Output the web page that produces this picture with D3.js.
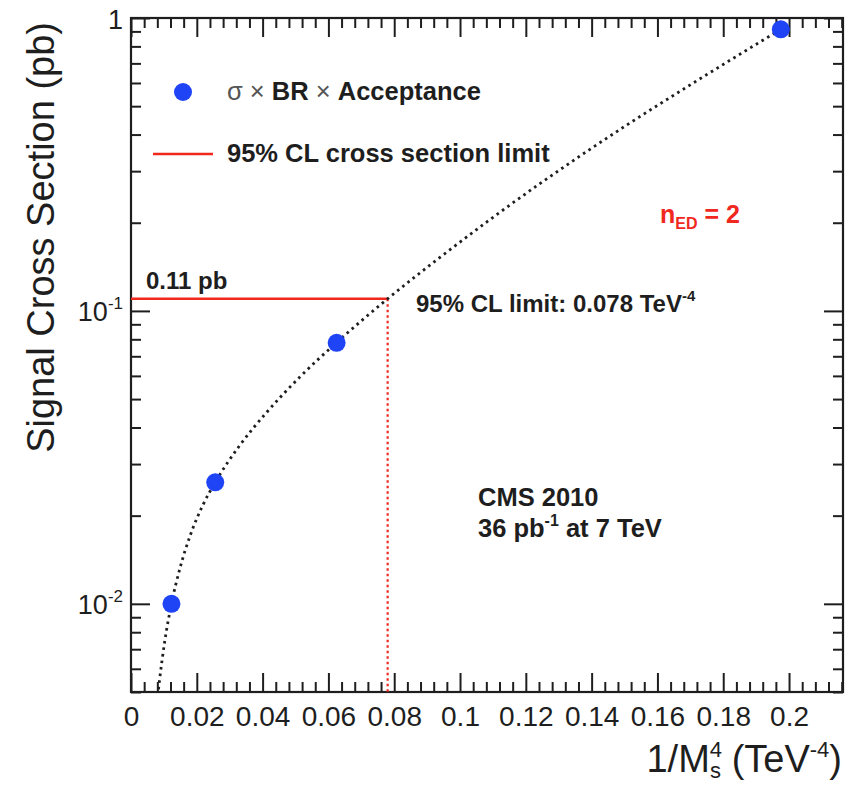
<!DOCTYPE html>
<meta charset="utf-8">
<script src="https://d3js.org/d3.v7.min.js"></script>
<style>
  body { margin: 0; background: #fff; }
  text { font-family: "Liberation Sans", Arial, sans-serif; }
</style>
<div id="chart"></div>
<script>

// signal points: 1/Ms^4 (TeV^-4) and sigma x BR x acceptance (pb)
var invMs4 = [0.0123, 0.0256, 0.0625, 0.1975];
var sigmaPb = [0.0100, 0.0260, 0.0778, 0.915];

// fitted curve
var fitX = [0.0079, 0.0086, 0.0103, 0.0123, 0.0149, 0.0179, 0.0219, 0.0256, 0.0331, 0.0412,
            0.0514, 0.0625, 0.078, 0.094, 0.109, 0.124, 0.1395, 0.1507, 0.1709, 0.1975];
var fitY = [0.0046, 0.0054, 0.0075, 0.0100, 0.01325, 0.0170, 0.0218, 0.0260, 0.0348, 0.0450,
            0.0596, 0.0780, 0.110, 0.1526, 0.2046, 0.2706, 0.3562, 0.4312, 0.600, 0.915];

// limit
var limitX = 0.078;
var limitY = 0.11;

// ticks
var xMajor = [0, 0.02, 0.04, 0.06, 0.08, 0.1, 0.12, 0.14, 0.16, 0.18, 0.2];
var xLabels = ["0", "0.02", "0.04", "0.06", "0.08", "0.1", "0.12", "0.14", "0.16", "0.18", "0.2"];
var yMajor = [0.01, 0.1, 1];
var yExp = ["-2", "-1", ""];

var W = 848, H = 789;
var margin = {top: 18, right: 5, bottom: 97, left: 131};
var xMax = 0.2164;

var svg = d3.select("#chart").append("svg")
    .attr("width", W).attr("height", H);

var x = d3.scaleLinear().domain([0, xMax]).range([margin.left, W - margin.right]);
var y = d3.scaleLog().domain([0.005, 1]).range([H - margin.bottom, margin.top]);

var x0 = x.range()[0], x1 = x.range()[1];
var yb = y.range()[0], yt = y.range()[1];

var red = "#f0281e", blue = "#1f44f6", ink = "#1e1e1e";

// minor ticks
var xMinor = d3.range(0, 60).map(function(i) { return i * 0.004; })
    .filter(function(v) { return v <= xMax && Math.abs(v / 0.02 - Math.round(v / 0.02)) > 1e-6; });
var yMinor = [];
[0.001, 0.01, 0.1].forEach(function(d) {
  for (var k = 2; k <= 9; k++) {
    var v = d * k;
    if (v >= 0.005 && v <= 1) yMinor.push(v);
  }
});

function styleAxis(g) {
  g.select(".domain").remove();
  g.selectAll(".tick line").attr("stroke", ink).attr("stroke-width", 2);
}

// bottom
svg.append("g").attr("transform", "translate(0," + yb + ")")
  .call(d3.axisBottom(x).tickValues(xMajor).tickSize(-19).tickPadding(14)
        .tickFormat(function(d, i) { return xLabels[i]; }))
  .call(styleAxis)
  .selectAll("text").attr("font-size", 28).attr("fill", ink)
  .attr("font-family", "Liberation Sans, Arial, sans-serif");
svg.append("g").attr("transform", "translate(0," + yb + ")")
  .call(d3.axisBottom(x).tickValues(xMinor).tickSize(-10).tickFormat(""))
  .call(styleAxis);
// top
svg.append("g").attr("transform", "translate(0," + yt + ")")
  .call(d3.axisTop(x).tickValues(xMajor).tickSize(-19).tickFormat(""))
  .call(styleAxis);
svg.append("g").attr("transform", "translate(0," + yt + ")")
  .call(d3.axisTop(x).tickValues(xMinor).tickSize(-10).tickFormat(""))
  .call(styleAxis);
// left
var gl = svg.append("g").attr("transform", "translate(" + x0 + ",0)")
  .call(d3.axisLeft(y).tickValues(yMajor).tickSize(-19).tickFormat(""))
  .call(styleAxis);
svg.append("g").attr("transform", "translate(" + x0 + ",0)")
  .call(d3.axisLeft(y).tickValues(yMinor).tickSize(-10).tickFormat(""))
  .call(styleAxis);
// right
svg.append("g").attr("transform", "translate(" + x1 + ",0)")
  .call(d3.axisRight(y).tickValues(yMajor).tickSize(-19).tickFormat(""))
  .call(styleAxis);
svg.append("g").attr("transform", "translate(" + x1 + ",0)")
  .call(d3.axisRight(y).tickValues(yMinor).tickSize(-10).tickFormat(""))
  .call(styleAxis);

// y tick labels with exponents
gl.selectAll(".tick").each(function(d, i) {
  var t = d3.select(this).append("text")
      .attr("x", -8).attr("y", 10)
      .attr("text-anchor", "end")
      .attr("font-size", 27).attr("fill", ink);
  if (yExp[i] === "") {
    t.text("1");
  } else {
    t.append("tspan").text("10");
    t.append("tspan").attr("font-size", 17).attr("dy", -12).text(yExp[i]);
  }
});

// frame
svg.append("rect")
  .attr("x", x0).attr("y", yt).attr("width", x1 - x0).attr("height", yb - yt)
  .attr("fill", "none").attr("stroke", ink).attr("stroke-width", 2.2);

var plot = svg.append("g");
svg.append("clipPath").attr("id", "clip").append("rect")
  .attr("x", x0).attr("y", yt).attr("width", x1 - x0).attr("height", yb - yt);
plot.attr("clip-path", "url(#clip)");

// limit lines
plot.append("line")
  .attr("x1", x(0)).attr("x2", x(limitX))
  .attr("y1", y(limitY)).attr("y2", y(limitY))
  .attr("stroke", red).attr("stroke-width", 2.5);
plot.append("line")
  .attr("x1", x(limitX)).attr("x2", x(limitX))
  .attr("y1", y(limitY)).attr("y2", yb)
  .attr("stroke", red).attr("stroke-width", 2.2).attr("stroke-dasharray", "2.5,3");

// fitted curve (dotted)
var fitData = fitX.map(function(v, i) { return [v, fitY[i]]; });
plot.append("path")
  .datum(fitData)
  .attr("d", d3.line()
      .x(function(d) { return x(d[0]); })
      .y(function(d) { return y(d[1]); })
      .curve(d3.curveMonotoneX))
  .attr("fill", "none").attr("stroke", ink)
  .attr("stroke-width", 2.8).attr("stroke-dasharray", "2.6,4");

// points
var pts = invMs4.map(function(v, i) { return [v, sigmaPb[i]]; });
plot.selectAll("circle.pt").data(pts).enter().append("circle")
  .attr("class", "pt")
  .attr("cx", function(d) { return x(d[0]); })
  .attr("cy", function(d) { return y(d[1]); })
  .attr("r", 9).attr("fill", blue);

// legend
svg.append("circle").attr("cx", 183).attr("cy", 92).attr("r", 9).attr("fill", blue);
var lt = svg.append("text").attr("x", 227).attr("y", 100)
  .attr("font-size", 25.5).attr("fill", ink);
lt.append("tspan").attr("fill", "#555").text("\u03c3 \u00d7 ");
lt.append("tspan").attr("font-weight", "bold").text("BR");
lt.append("tspan").attr("fill", "#555").text(" \u00d7 ");
lt.append("tspan").attr("font-weight", "bold").text("Acceptance");

svg.append("line").attr("x1", 153).attr("x2", 213).attr("y1", 154).attr("y2", 154)
  .attr("stroke", red).attr("stroke-width", 2.5);
svg.append("text").attr("x", 227).attr("y", 162)
  .attr("font-size", 25.5).attr("font-weight", "bold").attr("fill", ink)
  .text("95% CL cross section limit");

// annotations
svg.append("text").attr("x", 146).attr("y", 289)
  .attr("font-size", 24).attr("font-weight", "bold").attr("fill", ink)
  .text("0.11 pb");

var al = svg.append("text").attr("x", 416).attr("y", 312)
  .attr("font-size", 24).attr("font-weight", "bold").attr("fill", ink);
al.append("tspan").text("95% CL limit: 0.078 TeV");
al.append("tspan").attr("font-size", 15).attr("dy", -11).text("-4");

var ne = svg.append("text").attr("x", 660).attr("y", 223)
  .attr("font-size", 25).attr("font-weight", "bold").attr("fill", red);
ne.append("tspan").text("n");
ne.append("tspan").attr("font-size", 16).attr("dy", 6).text("ED");
ne.append("tspan").attr("dy", -6).text(" = 2");

svg.append("text").attr("x", 478).attr("y", 506)
  .attr("font-size", 25.5).attr("font-weight", "bold").attr("fill", ink)
  .text("CMS 2010");
var lum = svg.append("text").attr("x", 478).attr("y", 537)
  .attr("font-size", 25.5).attr("font-weight", "bold").attr("fill", ink);
lum.append("tspan").text("36 pb");
lum.append("tspan").attr("font-size", 16).attr("dy", -11).text("-1");
lum.append("tspan").attr("dy", 11).text(" at 7 TeV");

// axis titles
svg.append("text")
  .attr("transform", "translate(54,22) rotate(-90)")
  .attr("text-anchor", "end")
  .attr("font-size", 38).attr("fill", ink)
  .text("Signal Cross Section (pb)");

var xt = svg.append("text").attr("x", 842).attr("y", 772)
  .attr("text-anchor", "end").attr("font-size", 38).attr("fill", ink);
xt.append("tspan").text("1/M");
xt.append("tspan").attr("font-size", 22).attr("dy", -15).text("4");
xt.append("tspan").attr("font-size", 22).attr("dx", -12).attr("dy", 21).text("s");
xt.append("tspan").attr("dy", -6).text(" (TeV");
xt.append("tspan").attr("font-size", 22).attr("dy", -15).text("-4");
xt.append("tspan").attr("dy", 15).text(")");

</script>
